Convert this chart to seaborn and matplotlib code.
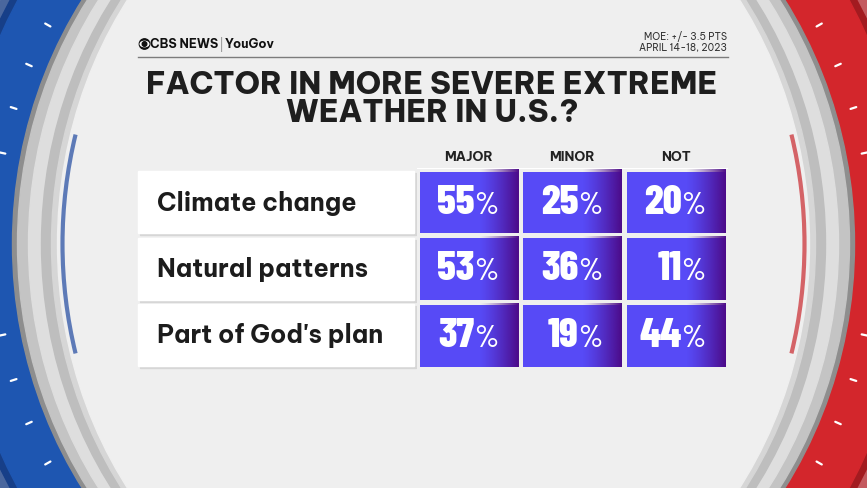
import numpy as np
import pandas as pd
import matplotlib
matplotlib.use("Agg")
import matplotlib.pyplot as plt
import seaborn as sns
from matplotlib.patches import Rectangle, Ellipse, Arc, Circle
from matplotlib.colors import ListedColormap, to_rgb

# ---------------- data ----------------
factors = ["Climate change", "Natural patterns", "Part of God's plan"]
columns = ["MAJOR", "MINOR", "NOT"]
major = [55, 53, 37]
minor = [25, 36, 19]
not_factor = [20, 11, 44]
title_lines = ["FACTOR IN MORE SEVERE EXTREME", "WEATHER IN U.S.?"]
moe_lines = ["MOE: +/- 3.5 PTS", "APRIL 14-18, 2023"]

df = pd.DataFrame({columns[0]: major, columns[1]: minor, columns[2]: not_factor},
                  index=factors)

# ---------------- fonts ----------------
MAIN = ["Be Vietnam Pro", "DejaVu Sans"]
NUM = ["Barlow Condensed", "DejaVu Sans"]

W, H = 867, 488
fig = plt.figure(figsize=(W / 100, H / 100), dpi=100)
bg = fig.add_axes([0, 0, 1, 1])
bg.set_xlim(0, W)
bg.set_ylim(H, 0)
bg.axis("off")


def px_rect(x0, y0, x1, y1):
    return [x0 / W, 1 - y1 / H, (x1 - x0) / W, (y1 - y0) / H]


# ---------------- background rings ----------------
cx, cy = 433.5, 244
left_clip = Rectangle((0, 0), cx, H, transform=bg.transData)
right_clip = Rectangle((cx, 0), W - cx, H, transform=bg.transData)

bg.add_patch(Rectangle((0, 0), cx, H, color="#4A679E", zorder=0))
bg.add_patch(Rectangle((cx, 0), W - cx, H, color="#C45A5F", zorder=0))
for (a, b), cl, cr in [((484, 503), "#173F88", "#A31B20"),
                       ((477, 497), "#1E56B1", "#D3262C")]:
    e1 = bg.add_patch(Ellipse((cx, cy), 2 * a, 2 * b, color=cl, zorder=1))
    e1.set_clip_path(left_clip)
    e2 = bg.add_patch(Ellipse((cx, cy), 2 * a, 2 * b, color=cr, zorder=1))
    e2.set_clip_path(right_clip)

gray_layers = [((421, 443), "#8E8E8E"), ((416, 440), "#C4C4C4"),
               ((405, 434), "#DEDEDE"), ((392, 428), "#BEBEBE"),
               ((382, 423), "#D6D6D6"), ((376, 420), "#EFEFEF")]
for (a, b), c in gray_layers:
    bg.add_patch(Ellipse((cx, cy), 2 * a, 2 * b, color=c, zorder=2))

# inner thin arcs
bg.add_patch(Arc((cx, cy), 2 * 371, 2 * 416, theta1=163, theta2=197,
                 color="#4466AE", lw=3, zorder=3, alpha=0.85))
bg.add_patch(Arc((cx, cy), 2 * 371, 2 * 416, theta1=-17, theta2=17,
                 color="#D04A4F", lw=3, zorder=3, alpha=0.85))

# tick marks on colored ring
ta, tb = 440, 455
for ty in [25, 65, 108, 153, 335, 380, 423, 463]:
    dy = ty - cy
    dx = ta * np.sqrt(max(0.0, 1 - (dy / tb) ** 2))
    for sgn in (-1, 1):
        x = cx + sgn * dx
        ang = np.arctan2(dy, sgn * dx)
        ux, uy = np.cos(ang), np.sin(ang)
        bg.plot([x - 3 * ux, x + 3 * ux], [ty - 3 * uy, ty + 3 * uy],
                color="white", lw=1.6, solid_capstyle="round", zorder=3)

# ---------------- header ----------------
bg.add_patch(Circle((144.5, 44), 5.2, color="#111111", zorder=5))
bg.add_patch(Ellipse((144.5, 44), 8.6, 5.4, color="white", zorder=6))
bg.add_patch(Circle((144.5, 44), 2.3, color="#111111", zorder=7))
bg.text(150.5, 44.5, "CBS NEWS", fontsize=8.9, fontweight="bold", family=MAIN,
        color="#111111", va="center", ha="left", zorder=6)
bg.text(222, 44.5, "|", fontsize=9, color="#A0A0A0", family=MAIN,
        va="center", ha="center", zorder=6)
bg.text(225, 44.5, "YouGov", fontsize=9.0, fontweight="bold", family=MAIN,
        color="#111111", va="center", ha="left", zorder=6)
bg.text(727, 37, moe_lines[0], fontsize=7.0, family=MAIN, color="#333333",
        ha="right", va="center", zorder=6)
bg.text(727, 47.5, moe_lines[1], fontsize=7.0, family=MAIN, color="#333333",
        ha="right", va="center", zorder=6)
bg.plot([138, 728], [57, 57], color="#7C7C7C", lw=1.0, zorder=6)

for k, line in enumerate(title_lines):
    bg.text(432, 85 + 27.5 * k, line, fontsize=22, fontweight=800,
            family=MAIN, color="#1E1E1E", ha="center", va="center", zorder=6)

# ---------------- row label boxes ----------------
row_tops = [171, 237.5, 304]
row_h = 62
for lab, y0 in zip(factors, row_tops):
    bg.add_patch(Rectangle((139.5, y0 + 2), 276, row_h, color="#D6D6D6", zorder=4))
    bg.add_patch(Rectangle((138, y0), 276, row_h, color="white", zorder=5))
    bg.text(157, y0 + row_h / 2 + 1, lab, fontsize=18, fontweight="bold",
            family=MAIN, color="#1C1C1C", ha="left", va="center", zorder=6)

# ---------------- heatmap cells ----------------
hax = fig.add_axes(px_rect(416.5, 168.5, 727.5, 368.5))
sns.heatmap(df, ax=hax, cmap=ListedColormap(["#574AF6"]), cbar=False,
            linewidths=3.6, linecolor="#EFEFEF", annot=False,
            xticklabels=True, yticklabels=False)
hax.xaxis.tick_top()
hax.tick_params(axis="x", length=0, pad=3.5)
for t in hax.get_xticklabels():
    t.set_fontsize(9.5)
    t.set_fontweight("bold")
    t.set_family(MAIN)
    t.set_color("#222222")
    t.set_rotation(0)
hax.set_xlabel("")
hax.set_ylabel("")

dark = np.array(to_rgb("#4C0A88"))
N = 128
tt = np.linspace(0, 1, N)
grad = np.zeros((1, N, 4))
grad[0, :, :3] = dark
grad[0, :, 3] = np.clip(tt, 0, 1) ** 1.3
gx, gy = 1.8 / 103.67, 1.8 / 66.67
vals = df.values
for i in range(vals.shape[0]):
    for j in range(vals.shape[1]):
        hax.imshow(grad, extent=(j + 0.6, j + 1 - gx, i + 1 - gy, i + gy),
                   aspect="auto", zorder=2, interpolation="bilinear")
        hax.text(j + 0.56, i + 0.68, f"{vals[i, j]}", ha="right", va="baseline",
                 family=NUM, fontweight=800, fontsize=30, color="white", zorder=3)
        hax.text(j + 0.555, i + 0.68, "%", ha="left", va="baseline",
                 family=NUM, fontweight=500, fontsize=22.5, color="white", zorder=3)
hax.set_xlim(0, 3)
hax.set_ylim(3, 0)
for s in hax.spines.values():
    s.set_visible(False)

fig.savefig("out.png", dpi=100, facecolor="#EFEFEF")
